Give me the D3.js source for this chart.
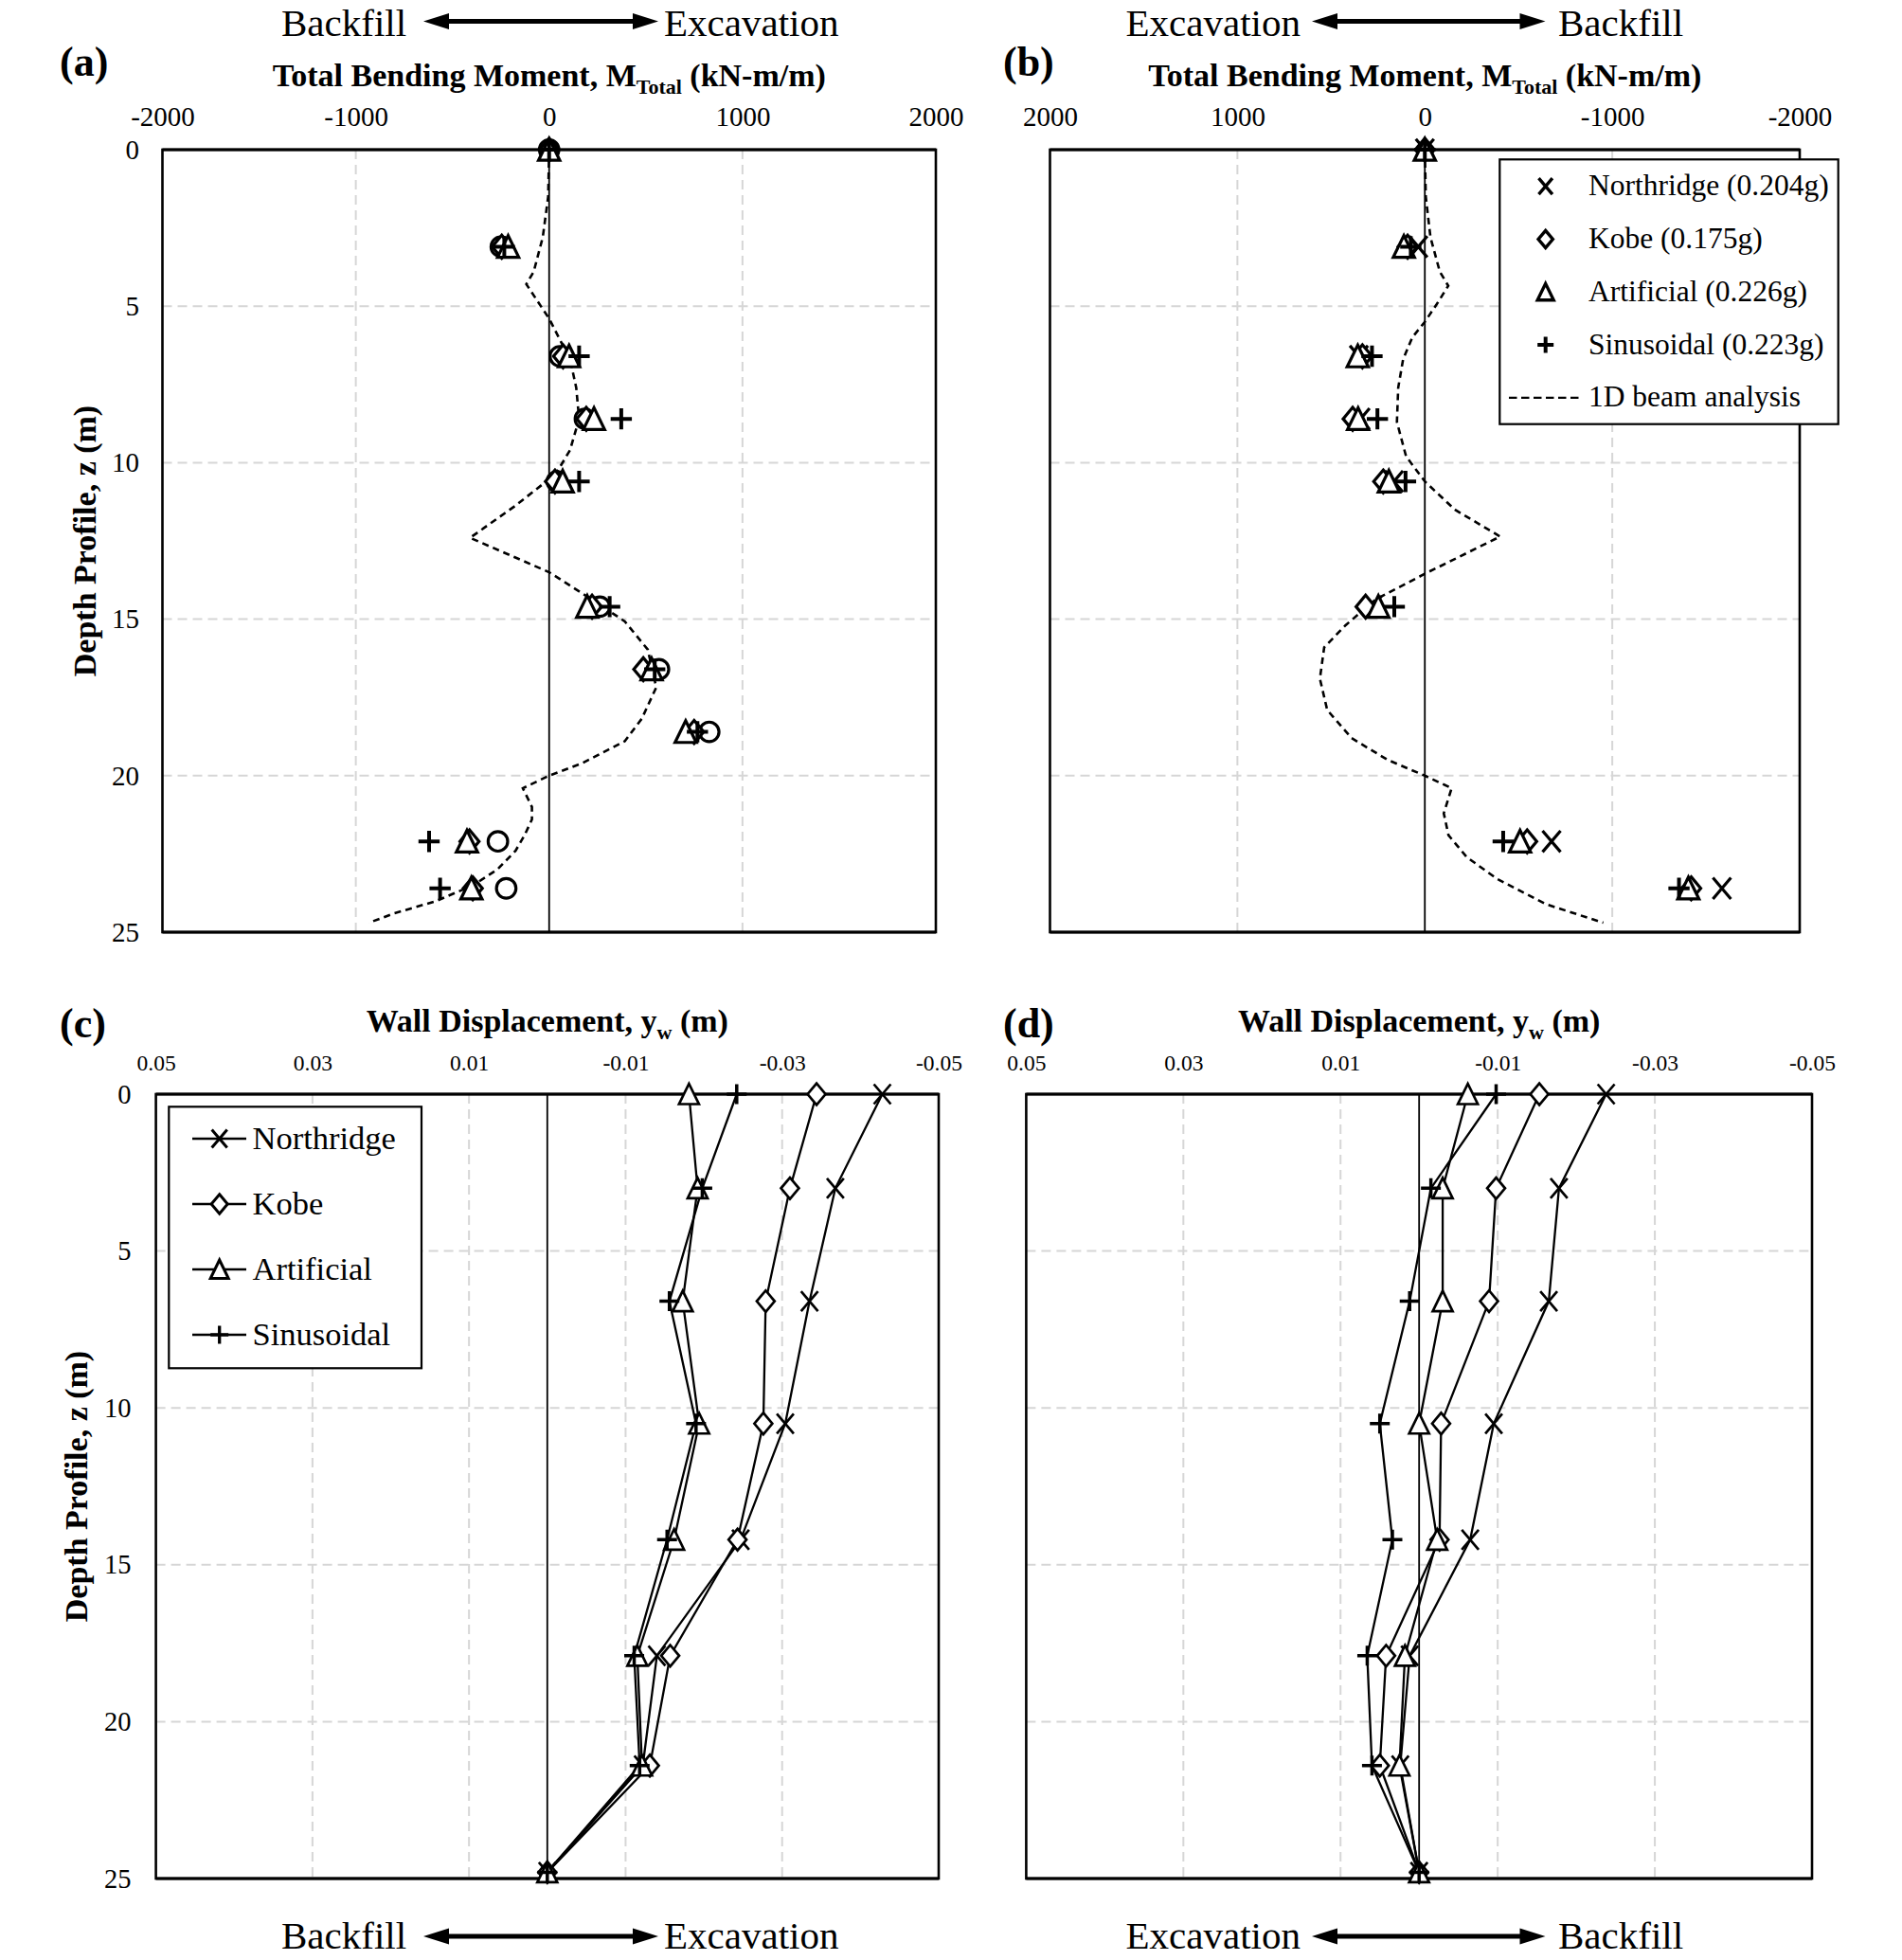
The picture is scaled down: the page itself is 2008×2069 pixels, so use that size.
<!DOCTYPE html>
<html><head><meta charset="utf-8">
<script src="https://cdn.jsdelivr.net/npm/d3@7"></script>
<style>
html,body{margin:0;padding:0;background:#fff;}
svg{display:block;}
text{font-family:"Liberation Serif","Times New Roman",serif;fill:#000;}
</style></head><body>
<svg id="chart" width="2008" height="2069" xmlns="http://www.w3.org/2000/svg"></svg>
<script>
// ---------------- DATA ----------------
const seriesNames = ["Northridge", "Kobe", "Artificial", "Sinusoidal"];
const legendLabelsB = ["Northridge (0.204g)", "Kobe (0.175g)", "Artificial (0.226g)", "Sinusoidal (0.223g)", "1D beam analysis"];

// (a) Total bending moment (kN-m/m) vs depth (m)
const depthMomentA = [0, 3.1, 6.6, 8.6, 10.6, 14.6, 16.6, 18.6, 22.1, 23.6];
const momentA_Northridge = [0, -250, 55, 185, 40, 262, 568, 828, -265, -222];
const momentA_Kobe       = [0, -245, 72, 192, 30, 222, 487, 750, -412, -395];
const momentA_Artificial = [0, -212, 103, 232, 70, 197, 530, 706, -425, -402];
const momentA_Sinusoidal = [0, -232, 155, 373, 155, 313, 546, 767, -621, -564];
const beamDepthA  = [0, 1.5, 2.8, 3.9, 4.3, 5.4, 6.7, 7.6, 8.6, 9.6, 10.3, 10.6, 11.4, 12.4, 13.5, 14.3, 15.07, 15.97, 17.18, 18.18, 18.9, 19.6, 20.0, 20.4, 21.0, 21.4, 21.9, 22.4, 23.0, 23.5, 24.0, 24.4, 24.7];
const beamMomentA = [0, -5, -33, -80, -118, 0, 108, 140, 155, 108, 40, -15, -180, -409, 0, 203, 391, 510, 554, 479, 391, 171, 0, -136, -89, -89, -127, -174, -268, -393, -582, -801, -933];

// (b) Total bending moment (kN-m/m) vs depth (m)
const depthMomentB = [0, 3.1, 6.6, 8.6, 10.6, 14.6, 22.1, 23.6];
const momentB_Northridge = [0, 35, 352, 343, 165, 280, -676, -1585];
const momentB_Kobe       = [0, 92, 333, 385, 222, 316, -546, -1421];
const momentB_Artificial = [0, 112, 358, 356, 192, 248, -508, -1406];
const momentB_Sinusoidal = [0, 75, 282, 253, 103, 163, -418, -1356];
const beamDepthB  = [0, 1.5, 2.8, 3.9, 4.35, 4.95, 5.5, 6.0, 6.7, 7.6, 8.7, 9.8, 10.6, 11.5, 12.36, 13.55, 14.37, 15.2, 15.9, 16.9, 17.9, 18.8, 19.5, 20.0, 20.4, 21.2, 21.9, 22.6, 23.3, 24.1, 24.7];
const beamMomentB = [0, -5, -30, -80, -125, -62, 0, 67, 116, 142, 149, 100, 0, -160, -402, 0, 262, 424, 537, 560, 521, 391, 197, 0, -143, -101, -126, -223, -386, -644, -952];

// (c), (d) Wall displacement (m) vs depth (m)
const depthDisp = [0, 3.0, 6.6, 10.5, 14.2, 17.9, 21.4, 24.8];
const dispC_Northridge = [-0.0428, -0.0368, -0.0335, -0.0304, -0.0247, -0.0140, -0.0122, 0];
const dispC_Kobe       = [-0.0344, -0.0310, -0.0279, -0.0276, -0.0243, -0.0157, -0.0131, 0];
const dispC_Artificial = [-0.0181, -0.0192, -0.0173, -0.0194, -0.0162, -0.0115, -0.0121, 0];
const dispC_Sinusoidal = [-0.0242, -0.0198, -0.0156, -0.0190, -0.0153, -0.0111, -0.0118, 0];
const dispD_Northridge = [-0.0238, -0.0178, -0.0165, -0.0095, -0.0065, 0.0012, 0.0024, 0];
const dispD_Kobe       = [-0.0153, -0.0098, -0.0089, -0.0028, -0.0026, 0.0042, 0.0050, 0];
const dispD_Artificial = [-0.0062, -0.0030, -0.0030, 0.0000, -0.0023, 0.0018, 0.0025, 0];
const dispD_Sinusoidal = [-0.0098, -0.0015, 0.0012, 0.0050, 0.0034, 0.0066, 0.0060, 0];

// axis ticks
const momentTicksA = [-2000, -1000, 0, 1000, 2000];
const momentTicksB = [2000, 1000, 0, -1000, -2000];
const momentGrid = [-1000, 1000];
const dispTicks = [0.05, 0.03, 0.01, -0.01, -0.03, -0.05];
const dispGrid = [0.03, 0.01, -0.01, -0.03];
const depthTicks = [0, 5, 10, 15, 20, 25];
const depthGrid = [5, 10, 15, 20];

// ---------------- DRAWING ----------------
const svg = d3.select("#chart");
svg.append("rect").attr("width", 2008).attr("height", 2069).attr("fill", "#fff");
const FONT = '"Liberation Serif","Times New Roman",serif';

function symbolPath(type, s) {
  switch (type) {
    case "circle": return `M${s},0A${s},${s} 0 1,1 ${-s},0A${s},${s} 0 1,1 ${s},0Z`;
    case "diamond": return `M0,${-s * 1.08}L${s * 0.9},0L0,${s * 1.08}L${-s * 0.9},0Z`;
    case "triangle": return `M0,${-s * 1.05}L${s},${s}L${-s},${s}Z`;
    case "x": return `M${-s * 0.85},${-s}L${s * 0.85},${s}M${-s * 0.85},${s}L${s * 0.85},${-s}`;
    case "plus": return `M${-s},0H${s}M0,${-s}V${s}`;
  }
}

function drawArrow(x1, x2, y) {
  const hl = 27, hh = 8.5, t = 5.2;
  const pts = [[x1, y], [x1 + hl, y - hh], [x1 + hl, y - t / 2], [x2 - hl, y - t / 2], [x2 - hl, y - hh], [x2, y],
               [x2 - hl, y + hh], [x2 - hl, y + t / 2], [x1 + hl, y + t / 2], [x1 + hl, y + hh]];
  svg.append("path").attr("d", d3.line()(pts) + "Z").attr("fill", "#000");
}

function annotation(leftWord, rightWord, x1, ax1, ax2, x2, baseline, arrowY) {
  svg.append("text").attr("x", x1).attr("y", baseline).attr("font-size", 41).text(leftWord);
  drawArrow(ax1, ax2, arrowY);
  svg.append("text").attr("x", x2).attr("y", baseline).attr("font-size", 41).text(rightWord);
}

function panel(cfg) {
  const g = svg.append("g");
  const x = d3.scaleLinear().domain(cfg.xDomain).range([cfg.left, cfg.right]);
  const y = d3.scaleLinear().domain([0, 25]).range([cfg.top, cfg.bottom]);

  // gridlines
  g.selectAll(".vg").data(cfg.xGrid).join("line")
    .attr("x1", d => x(d)).attr("x2", d => x(d)).attr("y1", cfg.top).attr("y2", cfg.bottom)
    .attr("stroke", "#d6d6d6").attr("stroke-width", 2).attr("stroke-dasharray", "10,6");
  g.selectAll(".hg").data(depthGrid).join("line")
    .attr("x1", cfg.left).attr("x2", cfg.right).attr("y1", d => y(d)).attr("y2", d => y(d))
    .attr("stroke", "#d6d6d6").attr("stroke-width", 2).attr("stroke-dasharray", "10,6");

  // zero line
  g.append("line").attr("x1", x(0)).attr("x2", x(0)).attr("y1", cfg.top).attr("y2", cfg.bottom)
    .attr("stroke", "#000").attr("stroke-width", 1.8);

  // frame
  g.append("rect").attr("x", cfg.left).attr("y", cfg.top)
    .attr("width", cfg.right - cfg.left).attr("height", cfg.bottom - cfg.top)
    .attr("fill", "none").attr("stroke", "#000").attr("stroke-width", 2.6);
  g.append("line").attr("x1", cfg.left).attr("x2", cfg.right).attr("y1", cfg.top).attr("y2", cfg.top)
    .attr("stroke", "#000").attr("stroke-width", 3.2);
  g.append("line").attr("x1", cfg.left).attr("x2", cfg.right).attr("y1", cfg.bottom).attr("y2", cfg.bottom)
    .attr("stroke", "#000").attr("stroke-width", 3.2);

  // top axis labels
  const ax = d3.axisTop(x).tickValues(cfg.xTicks).tickFormat(cfg.xFmt).tickSize(0).tickPadding(cfg.xPad);
  const axg = g.append("g").attr("transform", `translate(0,${cfg.top})`).call(ax);
  axg.select(".domain").remove();
  axg.selectAll("line").remove();
  axg.attr("font-family", FONT).attr("font-size", cfg.xFont);
  axg.selectAll("text").attr("fill", "#000");

  // left axis labels
  if (cfg.yLabels) {
    const ay = d3.axisLeft(y).tickValues(depthTicks).tickFormat(d => String(d)).tickSize(0).tickPadding(cfg.yPad);
    const ayg = g.append("g").attr("transform", `translate(${cfg.left},0)`).call(ay);
    ayg.select(".domain").remove();
    ayg.selectAll("line").remove();
    ayg.attr("font-family", FONT).attr("font-size", cfg.yFont);
    ayg.selectAll("text").attr("fill", "#000");
    // y title
    svg.append("text").attr("transform", `translate(${cfg.yTitleX},${(cfg.top + cfg.bottom) / 2}) rotate(-90)`)
      .attr("text-anchor", "middle").attr("font-weight", "bold").attr("font-size", 34)
      .text("Depth Profile, z (m)");
  }

  // panel letter
  svg.append("text").attr("x", cfg.letterX).attr("y", cfg.letterY).attr("font-weight", "bold")
    .attr("font-size", 44).text(cfg.letter);

  // x title with subscript
  const tt = svg.append("text").attr("x", (cfg.left + cfg.right) / 2).attr("y", cfg.titleY)
    .attr("text-anchor", "middle").attr("font-weight", "bold").attr("font-size", 34);
  tt.append("tspan").text(cfg.title[0]);
  tt.append("tspan").attr("font-size", 22).attr("dy", 8).text(cfg.title[1]);
  tt.append("tspan").attr("dy", -8).text(cfg.title[2]);

  // 1D beam analysis
  if (cfg.beam) {
    const pts = cfg.beam.z.map((z, i) => [cfg.beam.m[i], z]);
    g.append("path").attr("d", d3.line().x(d => x(d[0])).y(d => y(d[1]))(pts))
      .attr("fill", "none").attr("stroke", "#000").attr("stroke-width", 2.6).attr("stroke-dasharray", "7,5");
  }

  // series
  cfg.series.forEach(s => {
    const pts = s.values.map((v, i) => [v, cfg.depths[i]]);
    if (cfg.lines) {
      g.append("path").attr("d", d3.line().x(d => x(d[0])).y(d => y(d[1]))(pts))
        .attr("fill", "none").attr("stroke", "#000").attr("stroke-width", 2.3);
    }
  });
  cfg.series.forEach(s => {
    const pts = s.values.map((v, i) => [v, cfg.depths[i]]);
    g.selectAll(null).data(pts).join("path")
      .attr("transform", d => `translate(${x(d[0])},${y(d[1])})`)
      .attr("d", symbolPath(s.symbol, s.symbol === "circle" ? cfg.msize * 0.92 : cfg.msize))
      .attr("fill", (s.symbol === "x" || s.symbol === "plus") ? "none" : "#fff")
      .attr("stroke", "#000").attr("stroke-width", s.symbol === "plus" ? cfg.mstroke + 0.8 : cfg.mstroke);
  });
  return { x, y };
}

const momentTitle = ["Total Bending Moment, M", "Total", " (kN-m/m)"];
const dispTitle = ["Wall Displacement, y", "w", " (m)"];

// (a)
panel({
  left: 171.5, right: 988, top: 158, bottom: 984,
  xDomain: [-2000, 2000], xTicks: momentTicksA, xGrid: momentGrid, xFmt: d => String(d),
  xPad: 25.5, xFont: 29, yLabels: true, yPad: 24.5, yFont: 29, yTitleX: 101,
  letter: "(a)", letterX: 63, letterY: 80, title: momentTitle, titleY: 90.5,
  depths: depthMomentA, beam: { z: beamDepthA, m: beamMomentA }, lines: false, msize: 11.2, mstroke: 3.2,
  series: [
    { values: momentA_Northridge, symbol: "circle" },
    { values: momentA_Kobe, symbol: "diamond" },
    { values: momentA_Artificial, symbol: "triangle" },
    { values: momentA_Sinusoidal, symbol: "plus" }
  ]
});

// (b)
panel({
  left: 1108.5, right: 1900, top: 158, bottom: 984,
  xDomain: [2000, -2000], xTicks: momentTicksB, xGrid: momentGrid, xFmt: d => String(d),
  xPad: 25.5, xFont: 29, yLabels: false,
  letter: "(b)", letterX: 1059, letterY: 80, title: momentTitle, titleY: 90.5,
  depths: depthMomentB, beam: { z: beamDepthB, m: beamMomentB }, lines: false, msize: 11.2, mstroke: 3.2,
  series: [
    { values: momentB_Northridge, symbol: "x" },
    { values: momentB_Kobe, symbol: "diamond" },
    { values: momentB_Artificial, symbol: "triangle" },
    { values: momentB_Sinusoidal, symbol: "plus" }
  ]
});

// (c)
panel({
  left: 164.6, right: 991, top: 1155, bottom: 1983,
  xDomain: [0.05, -0.05], xTicks: dispTicks, xGrid: dispGrid, xFmt: d => d.toFixed(2),
  xPad: 25, xFont: 23.5, yLabels: true, yPad: 26.2, yFont: 28.5, yTitleX: 92,
  letter: "(c)", letterX: 63, letterY: 1095, title: dispTitle, titleY: 1089,
  depths: depthDisp, beam: null, lines: true, msize: 10.5, mstroke: 2.7,
  series: [
    { values: dispC_Northridge, symbol: "x" },
    { values: dispC_Kobe, symbol: "diamond" },
    { values: dispC_Artificial, symbol: "triangle" },
    { values: dispC_Sinusoidal, symbol: "plus" }
  ]
});

// (d)
panel({
  left: 1083.4, right: 1913, top: 1155, bottom: 1983,
  xDomain: [0.05, -0.05], xTicks: dispTicks, xGrid: dispGrid, xFmt: d => d.toFixed(2),
  xPad: 25, xFont: 23.5, yLabels: false,
  letter: "(d)", letterX: 1059, letterY: 1095, title: dispTitle, titleY: 1089,
  depths: depthDisp, beam: null, lines: true, msize: 10.5, mstroke: 2.7,
  series: [
    { values: dispD_Northridge, symbol: "x" },
    { values: dispD_Kobe, symbol: "diamond" },
    { values: dispD_Artificial, symbol: "triangle" },
    { values: dispD_Sinusoidal, symbol: "plus" }
  ]
});

// legend (b)
{
  const lg = svg.append("g");
  lg.append("rect").attr("x", 1583.3).attr("y", 168.3).attr("width", 357.4).attr("height", 279.4)
    .attr("fill", "#fff").attr("stroke", "#000").attr("stroke-width", 2.2);
  const syms = ["x", "diamond", "triangle", "plus"];
  legendLabelsB.forEach((lab, i) => {
    const yy = 196.7 + i * 55.8;
    if (i < 4) {
      lg.append("path").attr("transform", `translate(1631.7,${yy})`).attr("d", symbolPath(syms[i], 8.5))
        .attr("fill", (syms[i] === "x" || syms[i] === "plus") ? "none" : "#fff")
        .attr("stroke", "#000").attr("stroke-width", syms[i] === "plus" ? 4 : 3.4);
    } else {
      lg.append("line").attr("x1", 1593).attr("x2", 1670).attr("y1", yy).attr("y2", yy)
        .attr("stroke", "#000").attr("stroke-width", 2.2).attr("stroke-dasharray", "8.5,4.5");
    }
    lg.append("text").attr("x", 1677).attr("y", yy + 9.5).attr("font-size", 31.5).text(lab);
  });
}

// legend (c)
{
  const lg = svg.append("g");
  lg.append("rect").attr("x", 178.3).attr("y", 1168.3).attr("width", 266.7).attr("height", 276)
    .attr("fill", "#fff").attr("stroke", "#000").attr("stroke-width", 2.2);
  const syms = ["x", "diamond", "triangle", "plus"];
  seriesNames.forEach((lab, i) => {
    const yy = 1202 + i * 69;
    lg.append("line").attr("x1", 203).attr("x2", 260).attr("y1", yy).attr("y2", yy)
      .attr("stroke", "#000").attr("stroke-width", 2.4);
    lg.append("path").attr("transform", `translate(231.7,${yy})`).attr("d", symbolPath(syms[i], 9.5))
      .attr("fill", (syms[i] === "x" || syms[i] === "plus") ? "none" : "#fff")
      .attr("stroke", "#000").attr("stroke-width", syms[i] === "plus" ? 3.3 : 3);
    lg.append("text").attr("x", 266.5).attr("y", yy + 10.5).attr("font-size", 34.5).text(lab);
  });
}

// direction annotations
annotation("Backfill", "Excavation", 297, 447, 695, 701, 37.5, 22.5);
annotation("Excavation", "Backfill", 1188.5, 1385, 1631.5, 1645, 37.5, 22.5);
annotation("Backfill", "Excavation", 297, 447, 695, 701, 2057, 2044);
annotation("Excavation", "Backfill", 1188.5, 1385, 1631.5, 1645, 2057, 2044);
</script>
</body></html>
